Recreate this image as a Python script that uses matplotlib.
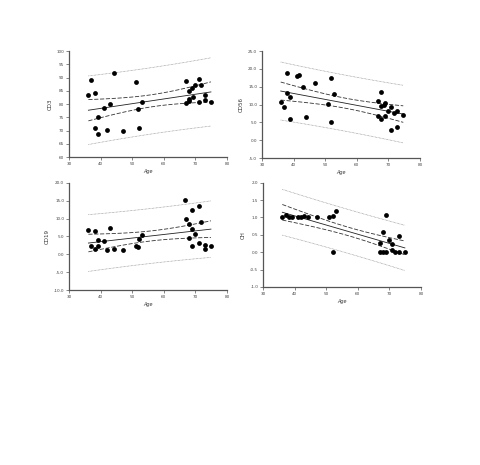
import numpy as np
import matplotlib
matplotlib.use("Agg")
from matplotlib import pyplot as plt

# ages and values
age_cd3 = [36.1, 37.0, 38.1, 38.1, 39.0, 39.0, 41.1, 42.0, 43.1, 44.1, 47.1, 51.1, 51.9, 52.1, 53.0,
           67.0, 67.0, 67.9, 68.1, 68.1, 68.9, 69.1, 69.9, 71.0, 71.0, 71.9, 73.0, 73.0, 74.9]
val_cd3 = [83.4, 89.1, 84.1, 70.9, 75.0, 68.8, 78.6, 70.3, 80.1, 91.6, 69.9, 88.5, 78.3, 71.1, 80.9,
           88.9, 80.6, 81.1, 84.9, 81.9, 86.1, 82.6, 87.4, 89.6, 80.9, 87.4, 83.6, 81.6, 80.9]

age_cd56 = [35.9, 36.9, 37.9, 37.9, 38.9, 38.9, 40.9, 41.8, 42.9, 43.9, 46.9, 50.8, 51.8, 51.8, 52.9,
            66.8, 66.8, 67.8, 67.8, 67.8, 68.7, 68.8, 68.8, 69.8, 70.8, 70.8, 71.8, 72.7, 72.7, 74.7]
val_cd56 = [10.8, 9.4, 18.9, 13.3, 12.0, 5.9, 18.0, 18.2, 15.0, 6.6, 16.0, 10.3, 17.4, 5.1, 13.1,
            11.1, 6.8, 13.5, 9.5, 5.9, 10.0, 10.4, 6.8, 8.1, 9.4, 3.0, 7.7, 8.1, 3.8, 7.0]

age_cd19 = [36.1, 37.0, 38.1, 38.1, 39.0, 39.0, 41.1, 42.0, 43.1, 44.1, 47.1, 51.1, 51.9, 52.1, 53.0,
            66.8, 67.0, 67.9, 67.9, 68.9, 68.9, 68.9, 69.9, 71.0, 71.0, 71.9, 73.0, 73.0, 74.9]
val_cd19 = [6.7, 2.4, 6.4, 1.5, 4.0, 2.4, 3.7, 1.2, 7.4, 1.5, 1.2, 2.2, 2.1, 4.3, 5.3,
            15.3, 10.0, 8.4, 4.7, 12.5, 7.1, 2.4, 5.8, 13.4, 3.3, 9.0, 2.5, 1.5, 2.2]

age_ch = [36.1, 37.2, 38.2, 39.2, 41.0, 42.0, 43.0, 44.1, 47.1, 51.0, 52.0, 52.0, 53.1,
          66.9, 66.9, 67.9, 67.9, 68.9, 68.9, 69.9, 70.9, 70.9, 71.9, 72.9, 72.9, 74.9]
val_ch = [1.0, 1.08, 1.0, 1.0, 1.0, 1.0, 1.03, 1.0, 1.0, 1.0, 1.05, 0.0, 1.18,
          0.26, 0.0, 0.57, 0.0, 1.08, 0.0, 0.36, 0.25, 0.05, 0.0, 0.46, 0.0, 0.0]

panels = [
    ("CD3", age_cd3, val_cd3, (60, 100), np.arange(60, 101, 5), "%.0f",
     [0.144, 0.662, 0.329, 0.228]),
    ("CD56", age_cd56, val_cd56, (-5, 25), np.arange(-5, 26, 5), "%.1f",
     [0.546, 0.660, 0.329, 0.230]),
    ("CD19", age_cd19, val_cd19, (-10, 20), np.arange(-10, 21, 5), "%.1f",
     [0.144, 0.376, 0.329, 0.231]),
    ("CH", age_ch, val_ch, (-1.0, 2.0), np.arange(-1.0, 2.01, 0.5), "%.1f",
     [0.548, 0.383, 0.329, 0.224]),
]

fig = plt.figure(figsize=(4.8, 4.65), dpi=100)

for name, ages, vals, ylim, yticks, fmt, rect in panels:
    ax = fig.add_axes(rect)
    x = np.array(ages)
    y = np.array(vals)

    # linear fit with 95% confidence and prediction bands
    n = len(x)
    b, a = np.polyfit(x, y, 1)
    resid = y - (a + b * x)
    s = np.sqrt(np.sum(resid ** 2) / (n - 2))
    t = 2.05
    xs = np.linspace(x.min(), x.max(), 100)
    fit = a + b * xs
    sxx = np.sum((x - x.mean()) ** 2)
    ci = t * s * np.sqrt(1.0 / n + (xs - x.mean()) ** 2 / sxx)
    pi = t * s * np.sqrt(1 + 1.0 / n + (xs - x.mean()) ** 2 / sxx)

    ax.plot(xs, fit, color="#222222", lw=0.6)
    ax.plot(xs, fit + ci, color="#333333", lw=0.6, ls=(0, (5, 2)))
    ax.plot(xs, fit - ci, color="#333333", lw=0.6, ls=(0, (5, 2)))
    ax.plot(xs, fit + pi, color="#888888", lw=0.5, ls=(0, (1, 1)))
    ax.plot(xs, fit - pi, color="#888888", lw=0.5, ls=(0, (1, 1)))
    ax.scatter(x, y, s=12, color="black", zorder=3, linewidths=0)

    ax.set_xlim(30, 80)
    ax.set_ylim(*ylim)
    ax.set_xticks(np.arange(30, 81, 10))
    ax.set_yticks(yticks)
    ax.set_yticklabels([fmt % v for v in yticks])
    for sp in ["top", "right"]:
        ax.spines[sp].set_visible(False)
    for sp in ["left", "bottom"]:
        ax.spines[sp].set_color("#555555")
        ax.spines[sp].set_linewidth(0.9)
    ax.tick_params(labelsize=3, length=2, width=0.5, pad=1.5, colors="#555555",
                   labelcolor="#444444")
    ax.set_xlabel("Age", fontsize=3.5, style="italic", labelpad=2, color="#333333")
    ax.set_ylabel(name, fontsize=4, labelpad=3, color="#333333")

fig.savefig("out.png", dpi=100)
